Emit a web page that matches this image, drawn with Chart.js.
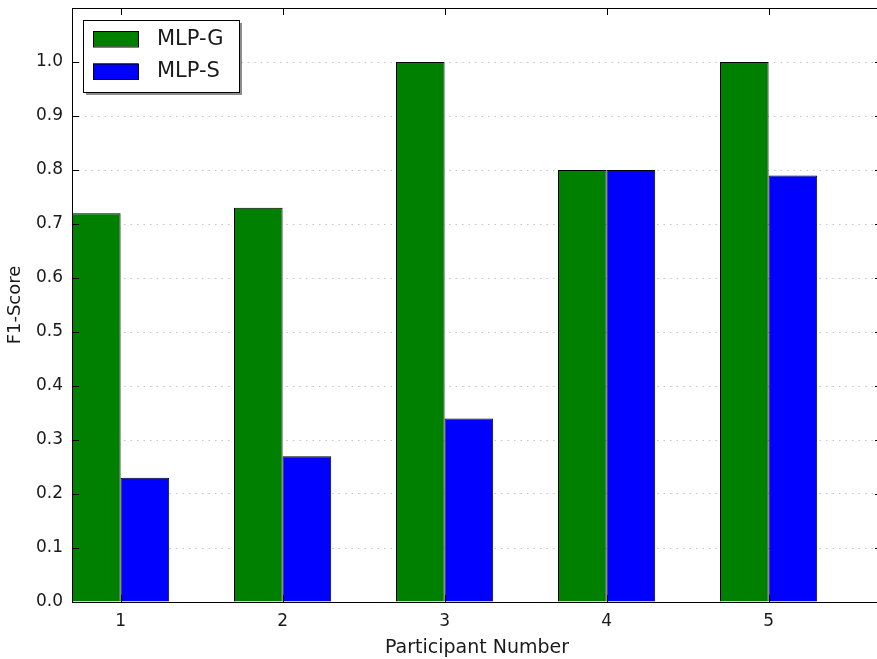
<!DOCTYPE html>
<html>
<head>
<meta charset="utf-8">
<script src="https://cdn.jsdelivr.net/npm/chart.js@4/dist/chart.umd.min.js"></script>
<style>
  html, body { margin: 0; padding: 0; background: #fff; overflow: hidden; }
  #wrap { width: 890px; height: 659px; }
</style>
</head>
<body>
<div id="wrap"><canvas id="c" width="890" height="659"></canvas></div>
<script>
// ---- data ----
const categories = [1, 2, 3, 4, 5];
const mlpG = [0.72, 0.73, 1.0, 0.80, 1.0];
const mlpS = [0.23, 0.27, 0.34, 0.80, 0.79];
const yTicks = [0.0, 0.1, 0.2, 0.3, 0.4, 0.5, 0.6, 0.7, 0.8, 0.9, 1.0];
const seriesNames = ['MLP-G', 'MLP-S'];

const FONT = '"DejaVu Sans", Verdana, sans-serif';
const TEXT = '#1a1a1a';

const framePlugin = {
  id: 'frame',
  afterDatasetsDraw(chart) {
    const {ctx, chartArea: a, scales} = chart;
    ctx.save();
    ctx.strokeStyle = '#000';
    ctx.lineWidth = 1;
    ctx.strokeRect(Math.round(a.left) + 0.5, Math.round(a.top) + 0.5,
                   Math.round(a.right - a.left), Math.round(a.bottom - a.top));
    const tl = 7;
    ctx.beginPath();
    scales.x.ticks.forEach(t => {
      const px = Math.round(scales.x.getPixelForValue(t.value)) + 0.5;
      ctx.moveTo(px, a.bottom); ctx.lineTo(px, a.bottom - tl);
      ctx.moveTo(px, a.top); ctx.lineTo(px, a.top + tl);
    });
    scales.y.ticks.forEach(t => {
      const py = Math.round(scales.y.getPixelForValue(t.value)) + 0.5;
      ctx.moveTo(a.left, py); ctx.lineTo(a.left + tl, py);
      ctx.moveTo(a.right, py); ctx.lineTo(a.right - tl, py);
    });
    ctx.stroke();
    ctx.restore();
  },
  afterDraw(chart) {
    const {ctx} = chart;
    const bx = 83, by = 20, bw = 156, bh = 72;
    ctx.save();
    ctx.fillStyle = 'rgba(0,0,0,0.45)';
    ctx.fillRect(bx + 3, by + 3, bw, bh);
    ctx.fillStyle = '#fff';
    ctx.fillRect(bx, by, bw, bh);
    ctx.strokeStyle = '#000';
    ctx.lineWidth = 1;
    ctx.strokeRect(bx + 0.5, by + 0.5, bw, bh);
    chart.data.datasets.forEach((ds, i) => {
      const ry = 31 + i * 32.5;
      ctx.fillStyle = ds.backgroundColor;
      ctx.fillRect(93, ry, 45, 15.5);
      ctx.strokeStyle = '#000';
      ctx.strokeRect(93.5, ry + 0.5, 45, 15.5);
      ctx.fillStyle = TEXT;
      ctx.font = '21px ' + FONT;
      ctx.textBaseline = 'middle';
      ctx.textAlign = 'left';
      ctx.fillText(ds.label, 157, ry + 8.5);
    });
    ctx.restore();
  }
};

new Chart(document.getElementById('c'), {
  type: 'bar',
  data: {
    labels: categories,
    datasets: [
      { label: seriesNames[0], data: mlpG, backgroundColor: '#008000', borderColor: '#000', borderWidth: 1 },
      { label: seriesNames[1], data: mlpS, backgroundColor: '#0000ff', borderColor: '#000', borderWidth: 1 }
    ]
  },
  options: {
    responsive: false,
    animation: false,
    devicePixelRatio: 1,
    categoryPercentage: 0.6,
    barPercentage: 1.0,
    layout: { padding: { top: 8, right: 8, left: 0, bottom: 0 } },
    plugins: { legend: { display: false }, tooltip: { enabled: false } },
    scales: {
      x: {
        type: 'linear',
        offset: false,
        min: 0.7,
        max: 5.7,
        afterBuildTicks: s => { s.ticks = categories.map(v => ({ value: v })); },
        afterFit: s => { s.height = 57; s.paddingLeft = 0; s.paddingRight = 0; },
        grid: { display: false, drawTicks: false, offset: false },
        border: { display: false },
        ticks: { padding: 9, color: TEXT, font: { family: FONT, size: 17 }, callback: v => String(v) },
        title: { display: true, text: 'Participant Number', color: TEXT, font: { family: FONT, size: 19 }, padding: { top: 0, bottom: 0 } }
      },
      y: {
        type: 'linear',
        min: 0,
        max: 1.1,
        afterBuildTicks: s => { s.ticks = yTicks.map(v => ({ value: v })); },
        afterFit: s => { s.width = 72; s.paddingTop = 0; s.paddingBottom = 0; },
        grid: { display: true, drawTicks: false, color: '#c4c4c4', lineWidth: 1 },
        border: { display: false, dash: [1.5, 5] },
        ticks: { padding: 9, color: TEXT, font: { family: FONT, size: 17 }, callback: v => Number(v).toFixed(1) },
        title: { display: true, text: 'F1-Score', color: TEXT, font: { family: FONT, size: 18 }, padding: { top: 5, bottom: 0 } }
      }
    }
  },
  plugins: [framePlugin]
});
</script>
</body>
</html>
